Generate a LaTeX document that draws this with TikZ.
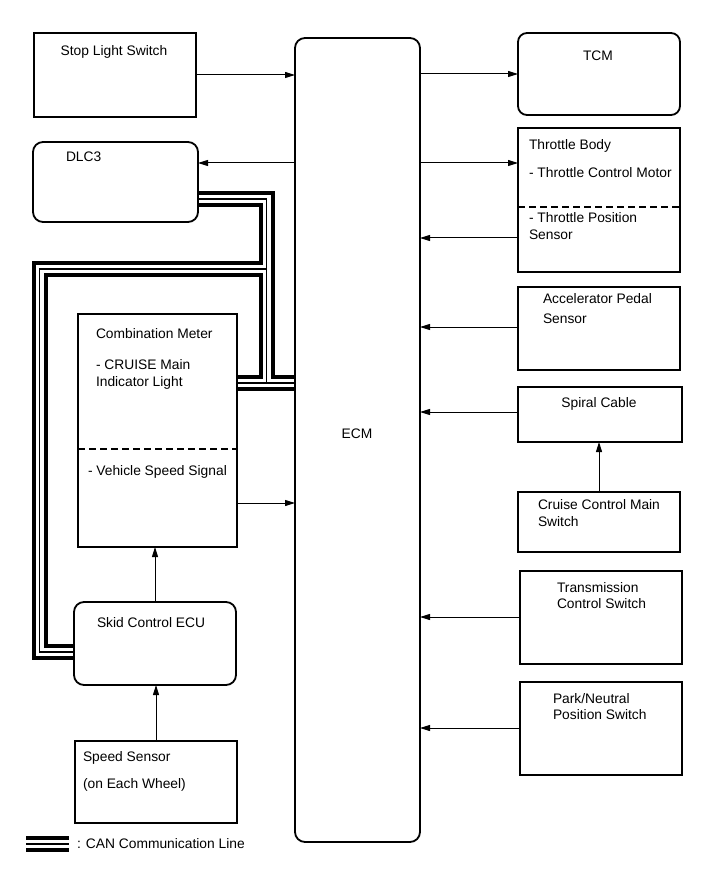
\documentclass[tikz,border=0pt]{standalone}
\usepackage{fontspec}
\setmainfont{Liberation Sans}
\usetikzlibrary{arrows.meta,backgrounds}
\begin{document}
\begin{tikzpicture}[x=1pt,y=-1pt,
  box/.style={draw, line width=1.8pt, inner sep=0pt, outer sep=0pt, anchor=north west},
  rbox/.style={box, rounded corners=9pt},
  lbl/.style={inner sep=0pt, outer sep=0pt, anchor=base west, font=\fontsize{13.8}{17}\selectfont},
  clbl/.style={lbl, anchor=base},
  arr/.style={line width=1pt, -{Triangle[length=10pt,width=6pt]}},
  dsh/.style={line width=1.5pt, dash pattern=on 7pt off 4pt}]
\useasboundingbox (0,0) rectangle (713,882);
% boxes
\node[box, minimum width=162pt, minimum height=84pt] (sls) at (34,33) {};
\node[rbox, rounded corners=10pt, minimum width=125pt, minimum height=804pt] (ecm) at (295,38) {};
\node[rbox, minimum width=162pt, minimum height=82pt] (tcm) at (518,33) {};
\node[rbox, rounded corners=10pt, minimum width=165pt, minimum height=80pt] (dlc) at (33,142) {};
\node[box, minimum width=162pt, minimum height=144pt] (thr) at (518,128) {};
\node[box, minimum width=162pt, minimum height=83pt] (acc) at (518,287) {};
\node[box, minimum width=164pt, minimum height=55pt] (spi) at (518,387) {};
\node[box, minimum width=162pt, minimum height=60pt] (ccm) at (518,492) {};
\node[box, minimum width=162pt, minimum height=93pt] (tcs) at (520,571) {};
\node[box, minimum width=162pt, minimum height=93pt] (pns) at (520,682) {};
\node[box, minimum width=159pt, minimum height=233pt] (cmb) at (78,314) {};
\node[rbox, rounded corners=10pt, minimum width=162pt, minimum height=83pt] (skid) at (74,602) {};
\node[box, minimum width=162pt, minimum height=82pt] (spd) at (75,741) {};
% level coordinates
\coordinate (y163) at (0,163);
\coordinate (y238) at (0,238);
\coordinate (y327) at (0,327);
\coordinate (y412) at (0,412);
\coordinate (y503) at (0,503);
\coordinate (y617) at (0,617);
\coordinate (y728) at (0,728);
\coordinate (d207) at (0,207);
\coordinate (d449) at (0,449);
\coordinate (c199) at (0,199);
\coordinate (c652) at (0,652);
\coordinate (cj) at (266.5,383);
\coordinate (cv) at (266.5,199);
\coordinate (ch) at (266.5,269);
\coordinate (lt) at (39.5,269);
\coordinate (lb) at (39.5,652);
\coordinate (leg1) at (26,844);
\coordinate (leg2) at (69,844);
% dashed separators
\draw[dsh] (thr.west |- d207) -- (thr.east |- d207);
\draw[dsh] (cmb.west |- d449) -- (cmb.east |- d449);
% CAN lines
\begin{scope}[on background layer]
\foreach \w/\c in {16/black, 8/white, 1.8/black} {
  \draw[line width=\w pt, draw=\c, line join=miter] (dlc.east |- c199) -- (cv) -- (cj);
  \draw[line width=\w pt, draw=\c, line join=miter] (ch) -- (lt) -- (lb) -- (skid.west |- c652);
  \draw[line width=\w pt, draw=\c, line join=miter] (cmb.east |- cj) -- (ecm.west |- cj);
  \draw[line width=\w pt, draw=\c] (leg1) -- (leg2);
}
\end{scope}
% arrows
\draw[arr] (sls.east) -- (ecm.west |- sls.east);
\draw[arr] (ecm.east |- tcm.west) -- (tcm.west);
\draw[arr] (ecm.west |- y163) -- (dlc.east |- y163);
\draw[arr] (ecm.east |- y163) -- (thr.west |- y163);
\draw[arr] (thr.west |- y238) -- (ecm.east |- y238);
\draw[arr] (acc.west |- y327) -- (ecm.east |- y327);
\draw[arr] (spi.west |- y412) -- (ecm.east |- y412);
\draw[arr] (ccm.north) -- (ccm.north |- spi.south);
\draw[arr] (tcs.west |- y617) -- (ecm.east |- y617);
\draw[arr] (pns.west |- y728) -- (ecm.east |- y728);
\draw[arr] (cmb.east |- y503) -- (ecm.west |- y503);
\draw[arr] (skid.north) -- (skid.north |- cmb.south);
\draw[arr] (spd.north) -- (spd.north |- skid.south);
% texts
\node[clbl] (t1) at (114,56) {Stop Light Switch};
\node[clbl] (t2) at (598,61) {TCM};
\node[lbl] (t3) at (66,162) {DLC3};
\node[clbl] (t4) at (357,438) {ECM};
\node[lbl] (t5) at (529,150) {Throttle Body};
\node[lbl] (t6) at (529,178) {- Throttle Control Motor};
\node[lbl] (t7) at (529,223) {- Throttle Position};
\node[lbl] (t8) at (529,240) {Sensor};
\node[lbl] (t9) at (543,303) {Accelerator Pedal};
\node[lbl] (t10) at (543,323) {Sensor};
\node[clbl] (t11) at (599,407) {Spiral Cable};
\node[lbl] (t12) at (538,509) {Cruise Control Main};
\node[lbl] (t13) at (538,526) {Switch};
\node[lbl] (t14) at (557,592) {Transmission};
\node[lbl] (t15) at (557,608) {Control Switch};
\node[lbl] (t16) at (553,703) {Park/Neutral};
\node[lbl] (t17) at (553,719) {Position Switch};
\node[lbl] (t18) at (96,338) {Combination Meter};
\node[lbl] (t19) at (96,369) {- CRUISE Main};
\node[lbl] (t20) at (96,386) {Indicator Light};
\node[lbl] (t21) at (88,475) {- Vehicle Speed Signal};
\node[lbl] (t22) at (97,627) {Skid Control ECU};
\node[lbl] (t23) at (83,761) {Speed Sensor};
\node[lbl] (t24) at (83,788) {(on Each Wheel)};
\node[lbl] (t25) at (77,848) {: CAN Communication Line};
\end{tikzpicture}
\end{document}
